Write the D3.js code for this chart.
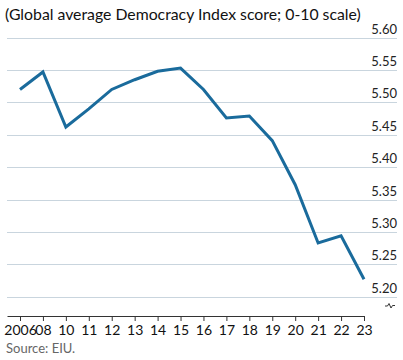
<!DOCTYPE html>
<html><head><meta charset="utf-8">
<script src="https://cdn.jsdelivr.net/npm/d3@7"></script>
<style>body{margin:0;background:#fff}svg{display:block}</style>
</head><body>
<svg id="c" width="403" height="360"></svg>
<script>
const years = ["2006","08","10","11","12","13","14","15","16","17","18","19","20","21","22","23"];
const scores = [5.52,5.547,5.462,5.49,5.52,5.535,5.548,5.553,5.52,5.476,5.479,5.441,5.373,5.283,5.294,5.227];
const yTicks = [5.20,5.25,5.30,5.35,5.40,5.45,5.50,5.55,5.60];
const title = "(Global average Democracy Index score; 0-10 scale)";
const source = "Source: EIU.";

const svg = d3.select("#c");
const font = "Lato, 'Open Sans', sans-serif";
const x = d3.scalePoint().domain(years).range([20, 364]);
const y = d3.scaleLinear().domain([5.20, 5.60]).range([296.8, 37.6]);

const t = svg.append("text").attr("x", 5).attr("y", 20).text(title)
  .attr("font-family", font).attr("font-size", 17).attr("fill", "#111");
const w = t.node().getComputedTextLength();
t.attr("font-size", 17 * 356 / w);

const grid = svg.append("g");
grid.selectAll("line").data(yTicks).join("line")
  .attr("x1", 7).attr("x2", 397)
  .attr("y1", d => Math.round(y(d)) + 0.5).attr("y2", d => Math.round(y(d)) + 0.5)
  .attr("stroke", "#c9d5de").attr("stroke-width", 1.2);
grid.selectAll("text").data(yTicks).join("text")
  .attr("x", 397).attr("y", d => y(d) - 4).attr("text-anchor", "end")
  .attr("font-family", font).attr("font-size", 13).attr("fill", "#222")
  .text(d => d3.format(".2f")(d));

// x axis
const axis = d3.axisBottom(x).tickSize(5).tickSizeOuter(0);
const ga = svg.append("g").attr("transform", "translate(0,316)").call(axis);
ga.select(".domain").attr("d", "M7.5,0.5H364.5").attr("stroke", "#333");
ga.selectAll(".tick line").attr("stroke", "#333");
ga.selectAll(".tick text").attr("font-family", font).attr("font-size", 14)
  .attr("fill", "#111").attr("y", 9).attr("dy", "0.71em");

// axis break symbol
svg.append("path").attr("d", "M385,306 L387.5,306 L389,303.5 L391,308 L392.5,305.5 L395,305.5")
  .attr("fill", "none").attr("stroke", "#333").attr("stroke-width", 1);

const line = d3.line().x((d, i) => x(years[i])).y(d => y(d));
svg.append("path").datum(scores).attr("d", line)
  .attr("fill", "none").attr("stroke", "#1a6b9c").attr("stroke-width", 3)
  .attr("stroke-linejoin", "miter");

svg.append("text").attr("x", 6).attr("y", 353).text(source)
  .attr("font-family", font).attr("font-size", 13).attr("fill", "#666");
</script>
</body></html>
